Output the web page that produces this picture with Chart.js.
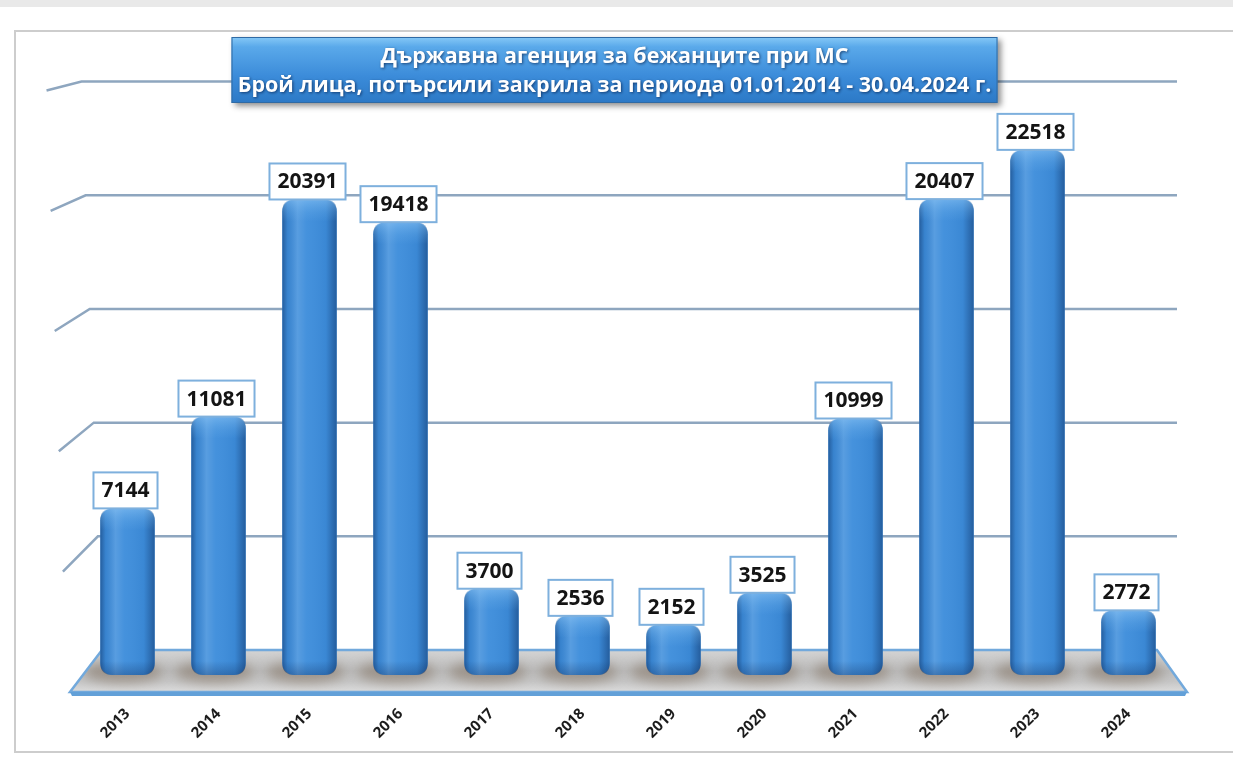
<!DOCTYPE html>
<html><head><meta charset="utf-8">
<script src="https://cdn.jsdelivr.net/npm/chart.js@4.4.1/dist/chart.umd.min.js"></script>
<style>html,body{margin:0;padding:0;background:#fff;overflow:hidden}#wrap{width:1233px;height:766px;position:relative}</style>
</head><body><div id="wrap"><canvas id="c" width="1233" height="766"></canvas></div>
<script>
const years = ['2013','2014','2015','2016','2017','2018','2019','2020','2021','2022','2023','2024'];
const persons = [7144, 11081, 20391, 19418, 3700, 2536, 2152, 3525, 10999, 20407, 22518, 2772];
const titleLines = ['Държавна агенция за бежанците при МС', 'Брой лица, потърсили закрила за периода 01.01.2014 - 30.04.2024 г.'];
const gridValues = [0, 5000, 10000, 15000, 20000, 25000];

const FONT = '"Open Sans", "Liberation Sans", sans-serif';

function rr(ctx, x, y, w, h, r) {
  r = Math.min(r, w / 2, h / 2);
  ctx.beginPath();
  ctx.moveTo(x + r, y);
  ctx.lineTo(x + w - r, y);
  ctx.quadraticCurveTo(x + w, y, x + w, y + r);
  ctx.lineTo(x + w, y + h - r);
  ctx.quadraticCurveTo(x + w, y + h, x + w - r, y + h);
  ctx.lineTo(x + r, y + h);
  ctx.quadraticCurveTo(x, y + h, x, y + h - r);
  ctx.lineTo(x, y + r);
  ctx.quadraticCurveTo(x, y, x + r, y);
  ctx.closePath();
}

const bgPlugin = {
  id: 'bg',
  beforeDraw(chart) {
    const ctx = chart.ctx;
    ctx.save();
    ctx.fillStyle = '#ffffff';
    ctx.fillRect(0, 0, chart.width, chart.height);
    ctx.fillStyle = '#e9e9e9';
    ctx.fillRect(0, 0, chart.width, 7);
    ctx.strokeStyle = '#cdcdcd';
    ctx.lineWidth = 2;
    ctx.strokeRect(15, 31, chart.width - 13, 721);
    ctx.restore();
  }
};

const wallPlugin = {
  id: 'wall',
  beforeDatasetsDraw(chart) {
    const ctx = chart.ctx, a = chart.chartArea, y = chart.scales.y;
    const base = y.getPixelForValue(0);
    ctx.save();
    ctx.strokeStyle = '#8ea6bf';
    ctx.lineWidth = 2.5;
    gridValues.forEach(v => {
      if (v === 0) return;
      const yg = base - 25 - (base - y.getPixelForValue(v)) * 0.975;
      const xl = a.left + 20 - (base - 25 - yg) * 0.036;
      ctx.beginPath();
      ctx.moveTo(xl - 35, yg + 9 + (yg - (a.top - 9)) * 0.058);
      ctx.lineTo(xl, yg);
      ctx.lineTo(a.right + 3, yg);
      ctx.stroke();
    });
    const bl = [a.left + 20, base - 25], br = [a.right - 17, base - 25];
    const fr = [a.right + 13, base + 17], fl = [a.left - 12, base + 17];
    const floorPath = () => {
      ctx.beginPath();
      ctx.moveTo(bl[0], bl[1]); ctx.lineTo(br[0], br[1]); ctx.lineTo(fr[0], fr[1]); ctx.lineTo(fl[0], fl[1]); ctx.closePath();
    };
    floorPath();
    const g = ctx.createLinearGradient(0, bl[1], 0, fl[1]);
    g.addColorStop(0, '#d4d4d4');
    g.addColorStop(0.5, '#bcbcbc');
    g.addColorStop(0.75, '#c6c6c6');
    g.addColorStop(1, '#dcdcdc');
    ctx.fillStyle = g;
    ctx.fill();
    ctx.save();
    ctx.clip();
    const meta = chart.getDatasetMeta(0);
    meta.data.forEach(el => {
      const w = el.width;
      ctx.save();
      ctx.filter = 'blur(6px)';
      ctx.fillStyle = 'rgba(115,95,75,0.45)';
      ctx.beginPath();
      ctx.ellipse(el.x - 4, base - 3, w * 0.72, 11, 0, 0, Math.PI * 2);
      ctx.fill();
      ctx.restore();
    });
    ctx.restore();
    floorPath();
    ctx.strokeStyle = '#72a9dc';
    ctx.lineWidth = 2.5;
    ctx.stroke();
    ctx.fillStyle = '#62a0d8';
    ctx.beginPath();
    ctx.moveTo(fl[0], fl[1]); ctx.lineTo(fr[0], fr[1]); ctx.lineTo(fr[0] - 2, fr[1] + 4); ctx.lineTo(fl[0] + 2, fl[1] + 4); ctx.closePath();
    ctx.fill();
    ctx.restore();
  }
};

const shadePlugin = {
  id: 'shade',
  afterDatasetsDraw(chart) {
    const ctx = chart.ctx;
    const meta = chart.getDatasetMeta(0);
    ctx.save();
    meta.data.forEach(el => {
      const w = el.width, x0 = el.x - w / 2, top = el.y, h = el.base - el.y;
      rr(ctx, x0, top, w, h, 12);
      ctx.save();
      ctx.clip();
      const g = ctx.createLinearGradient(x0, 0, x0 + w, 0);
      g.addColorStop(0, 'rgba(12,45,95,0.5)');
      g.addColorStop(0.1, 'rgba(12,45,95,0.1)');
      g.addColorStop(0.28, 'rgba(255,255,255,0.14)');
      g.addColorStop(0.45, 'rgba(255,255,255,0.04)');
      g.addColorStop(0.8, 'rgba(12,45,95,0.06)');
      g.addColorStop(1, 'rgba(12,45,95,0.5)');
      ctx.fillStyle = g;
      ctx.fillRect(x0, top, w, h);
      const gt = ctx.createLinearGradient(0, top, 0, top + 22);
      gt.addColorStop(0, 'rgba(150,205,250,0.5)');
      gt.addColorStop(0.6, 'rgba(120,185,240,0.2)');
      gt.addColorStop(1, 'rgba(120,185,240,0)');
      ctx.fillStyle = gt;
      ctx.fillRect(x0, top, w, 22);
      const gb = ctx.createLinearGradient(0, el.base - 14, 0, el.base);
      gb.addColorStop(0, 'rgba(10,35,80,0)');
      gb.addColorStop(1, 'rgba(10,35,80,0.3)');
      ctx.fillStyle = gb;
      ctx.fillRect(x0, el.base - 14, w, 14);
      ctx.restore();
    });
    ctx.restore();
  }
};

const labelPlugin = {
  id: 'vlabels',
  afterDatasetsDraw(chart) {
    const ctx = chart.ctx;
    const meta = chart.getDatasetMeta(0);
    ctx.save();
    ctx.font = 'bold 21px ' + FONT;
    ctx.textAlign = 'center';
    ctx.textBaseline = 'middle';
    meta.data.forEach((el, i) => {
      const txt = String(persons[i]);
      const tw = ctx.measureText(txt).width;
      const bw = tw + 16, bh = 36;
      const bx = el.x - 2 - bw / 2, by = el.y - bh;
      ctx.fillStyle = '#ffffff';
      ctx.fillRect(bx, by, bw, bh);
      ctx.strokeStyle = '#7eb0dd';
      ctx.lineWidth = 2;
      ctx.strokeRect(bx, by, bw, bh);
      ctx.fillStyle = '#141414';
      ctx.fillText(txt, el.x - 2, by + bh / 2 + 1);
    });
    ctx.restore();
  }
};

const titlePlugin = {
  id: 'titlebox',
  afterDraw(chart) {
    const ctx = chart.ctx;
    const w = 766, h = 66, x = chart.width / 2 - 2 - w / 2, y = 37;
    ctx.save();
    ctx.shadowColor = 'rgba(0,0,0,0.45)';
    ctx.shadowBlur = 6;
    ctx.shadowOffsetX = 3;
    ctx.shadowOffsetY = 3;
    const g = ctx.createLinearGradient(0, y, 0, y + h);
    g.addColorStop(0, '#86c9f7');
    g.addColorStop(0.15, '#5aa9ea');
    g.addColorStop(0.6, '#3b8bd9');
    g.addColorStop(1, '#2c79c6');
    ctx.fillStyle = g;
    ctx.fillRect(x, y, w, h);
    ctx.shadowColor = 'transparent';
    ctx.strokeStyle = '#2f6aa4';
    ctx.lineWidth = 1;
    ctx.strokeRect(x + 0.5, y + 0.5, w - 1, h - 1);
    ctx.font = 'bold 21.5px ' + FONT;
    ctx.textAlign = 'center';
    ctx.textBaseline = 'middle';
    ctx.fillStyle = '#ffffff';
    ctx.shadowColor = 'rgba(0,20,60,0.65)';
    ctx.shadowBlur = 3;
    ctx.shadowOffsetX = 1;
    ctx.shadowOffsetY = 1;
    ctx.fillText(titleLines[0], x + w / 2, y + 20);
    ctx.fillText(titleLines[1], x + w / 2, y + 49);
    ctx.restore();
  }
};

new Chart(document.getElementById('c'), {
  type: 'bar',
  data: {
    labels: years,
    datasets: [{
      data: persons,
      backgroundColor: '#3d8ddb',
      borderWidth: 0,
      borderRadius: 12,
      borderSkipped: false,
      barPercentage: 0.6,
      categoryPercentage: 1
    }]
  },
  options: {
    responsive: false,
    devicePixelRatio: 1,
    animation: false,
    layout: { padding: { left: 82, right: 59, top: 92, bottom: 0 } },
    plugins: { legend: { display: false }, tooltip: { enabled: false }, title: { display: false } },
    scales: {
      x: {
        grid: { display: false },
        border: { display: false },
        ticks: {
          minRotation: 45, maxRotation: 45, padding: 22,
          color: '#1c1c1c',
          font: { family: FONT, size: 15, weight: 'bold' }
        },
        afterFit(s) { s.height = 91; }
      },
      y: { display: false, min: 0, max: 25000 }
    }
  },
  plugins: [bgPlugin, wallPlugin, shadePlugin, labelPlugin, titlePlugin]
});
</script>
</body></html>
